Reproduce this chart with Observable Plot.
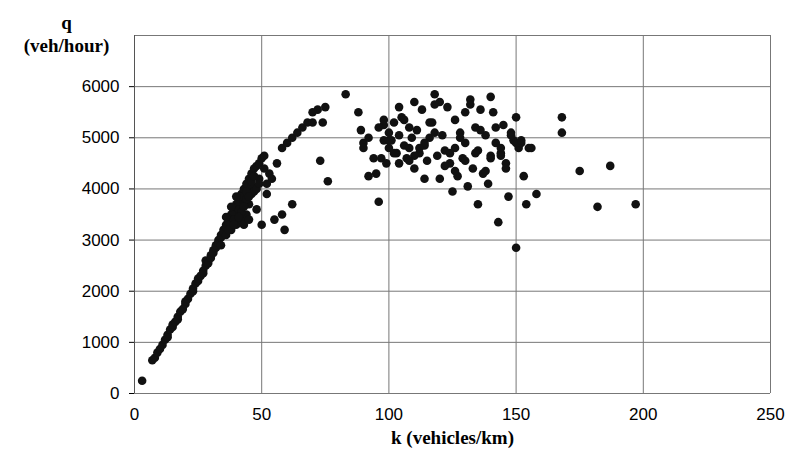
<!DOCTYPE html>
<html><head>
<script src="https://cdn.jsdelivr.net/npm/d3@7"></script>
<script src="https://cdn.jsdelivr.net/npm/@observablehq/plot@0.6"></script>
<style>body{margin:0;background:#fff}</style>
</head><body><div id="c"></div>
<script>
const kFree = [3,7,8,9,10,11,12,13,13,14,15,15,16,17,17,18,19,20,20,21,22,23,23,24,25,25,26,27,27,28,28,29,30,30,31,31,32,32,33,33,34,34,35,35,36,36,37,37,38,38,39,39,40,40,41,41,42,42,43,44,45,46,47,48,49,50,51,34,36,38,40,42,44,45,46,48,50,41,43,39,37,44,46,47,49,51,53,36,38,40,42,44,46,48,39,41,43,45,47,49,43,45];
const qFree = [250,650,700,800,870,950,1050,1150,1100,1250,1300,1350,1400,1500,1450,1600,1650,1750,1800,1850,1950,2000,2050,2150,2200,2250,2300,2400,2350,2500,2600,2550,2700,2650,2800,2750,2850,2900,3000,2950,3100,3050,3200,3150,3300,3250,3400,3350,3500,3450,3600,3550,3650,3700,3800,3750,3900,3850,4000,4100,4200,4300,4400,4450,4500,4600,4650,2900,3100,3200,3300,3400,3500,3700,3900,3600,3300,3600,3700,3400,3200,3800,4050,3950,4200,4400,4300,3450,3650,3850,3550,3950,4150,4000,3300,3450,3650,3850,4250,4100,3300,3400];
const kCong = [52,55,58,59,62,52,54,56,58,60,62,64,66,68,70,72,70,74,75,73,76,83,88,89,90,90,92,95,96,97,98,99,100,100,101,102,103,104,104,105,106,107,108,108,109,110,110,111,112,113,114,115,116,117,118,118,119,120,120,121,122,123,124,125,126,126,127,128,129,130,130,131,132,133,134,135,135,136,137,138,139,140,140,141,142,143,144,145,146,147,148,149,150,150,151,152,153,154,155,156,158,168,168,175,182,187,197,92,94,96,98,102,106,110,114,116,122,124,128,132,134,138,142,144,146,148,150,126,118,108,100,112,136,140,152,98,104,114,130,144];
const qCong = [3900,3400,3500,3200,3700,4100,4200,4500,4800,4900,5000,5100,5200,5300,5300,5550,5500,5300,5600,4550,4150,5850,5500,5150,4900,4800,4250,4300,3750,4600,5250,4500,4800,5100,4950,5300,4700,4500,5050,5400,4850,4600,5200,4800,5000,5700,4400,5150,4700,5550,4850,4550,5000,5300,5850,5100,4650,5700,4200,5050,4750,5600,4500,3950,5350,4800,4250,5100,4600,5500,4900,4050,5750,4400,5200,3700,4750,5550,4300,5050,4100,5800,4650,5500,4900,3350,4700,5250,4500,3850,5100,4950,2850,5400,4800,4900,4250,3700,4800,4800,3900,5100,5400,4350,3650,4450,3700,5000,4600,5200,4950,4700,5350,4650,4900,5300,4450,4700,5000,5650,4700,4350,5200,4800,4400,5050,4900,4350,5650,4550,4950,4800,5150,4600,4950,5350,5600,4200,4550,4650];

const pts = kFree.map((k,i)=>({k,q:qFree[i]})).concat(kCong.map((k,i)=>({k,q:qCong[i]})));
const serif = {fontFamily: "Liberation Serif, serif", fontWeight: "bold", fontSize: 19};

const chart = Plot.plot({
  width: 812, height: 473,
  marginLeft: 134, marginTop: 35, marginRight: 42, marginBottom: 80,
  style: {fontFamily: "Liberation Sans, Arial, sans-serif", fontSize: "17px", color: "#000", background: "#fff"},
  x: {domain: [0, 250], label: null},
  y: {domain: [0, 7000], label: null},
  marks: [
    Plot.gridX([50,100,150,200,250], {stroke: "#777", strokeOpacity: 1, strokeWidth: 1}),
    Plot.gridY([0,1000,2000,3000,4000,5000,6000,7000], {stroke: "#777", strokeOpacity: 1, strokeWidth: 1}),
    Plot.ruleX([0], {stroke: "#555"}),
    Plot.axisX({ticks: [0,50,100,150,200,250], tickSize: 0, tickPadding: 14, tickFormat: d => String(d)}),
    Plot.axisY({ticks: [0,1000,2000,3000,4000,5000,6000], tickSize: 5, tickPadding: 10, tickFormat: d => String(d)}),
    Plot.dot(pts, {x: "k", y: "q", r: 4.3, fill: "#111", stroke: "none"}),
    Plot.text(["k (vehicles/km)"], {frameAnchor: "bottom", dy: 50, ...serif}),
    Plot.text(["q"], {frameAnchor: "top-left", dx: -68, dy: -20, textAnchor: "middle", ...serif}),
    Plot.text(["(veh/hour)"], {frameAnchor: "top-left", dx: -68, dy: 3, textAnchor: "middle", ...serif})
  ]
});
document.getElementById("c").appendChild(chart);
</script></body></html>
